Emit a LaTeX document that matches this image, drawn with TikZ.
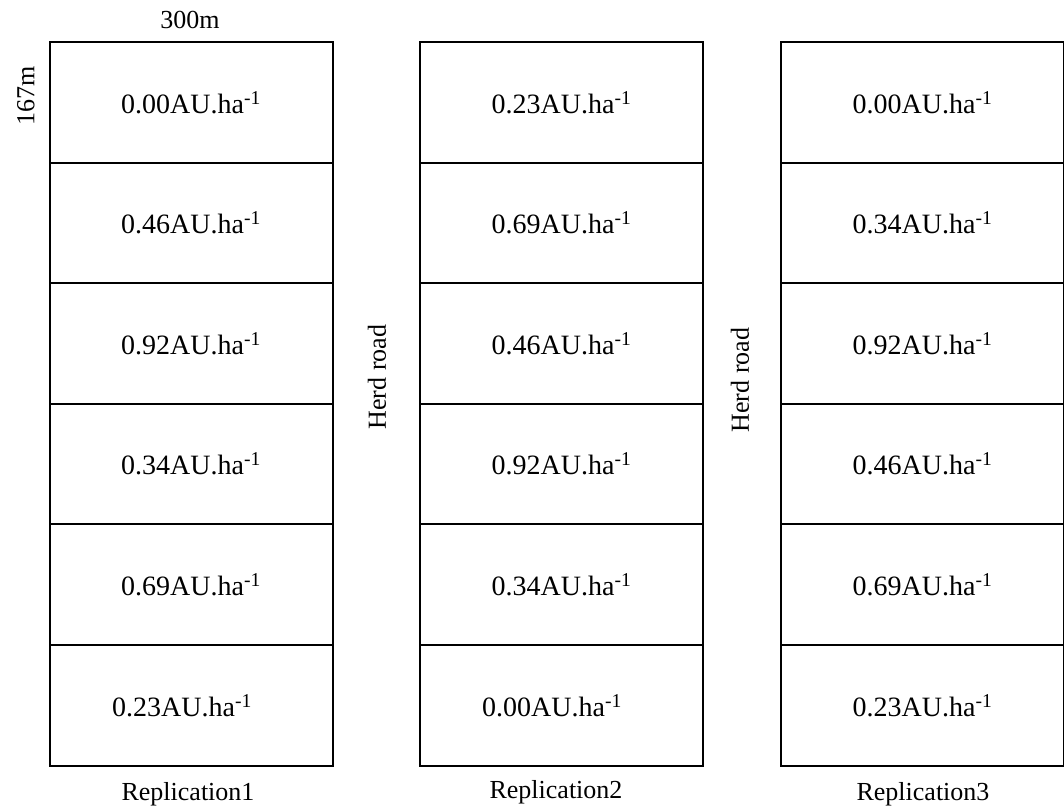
\documentclass[tikz,border=0pt]{standalone}
\usepackage{fontspec}
\setmainfont{Liberation Serif}
\begin{document}
\begin{tikzpicture}[x=1pt,y=-1pt,
  cell/.style={draw=black,line width=2pt,minimum width=283pt,minimum height=120.6pt,inner sep=0pt,font=\fontsize{28}{32}\selectfont},
  celltext/.style={inner sep=0pt,font=\fontsize{28}{32}\selectfont},
  lbl/.style={font=\fontsize{26}{30}\selectfont,inner sep=0pt},
  rd/.style={font=\fontsize{26}{30}\selectfont,inner sep=0pt,rotate=90}]
\useasboundingbox (0,0) rectangle (1064,807);
\newcommand{\au}[1]{#1AU.ha\textsuperscript{-1}}
% column 1
\node[cell] (a1) at (191,102.3) {\au{0.00}};
\node[cell] (a2) at (191,222.9) {\au{0.46}};
\node[cell] (a3) at (191,343.5) {\au{0.92}};
\node[cell] (a4) at (191,464.1) {\au{0.34}};
\node[cell] (a5) at (191,584.7) {\au{0.69}};
\node[cell] (a6) at (191,705.3) {};
\node[celltext] (a6t) at (182,706) {\au{0.23}};
% column 2
\node[cell] (b1) at (561.5,102.3) {\au{0.23}};
\node[cell] (b2) at (561.5,222.9) {\au{0.69}};
\node[cell] (b3) at (561.5,343.5) {\au{0.46}};
\node[cell] (b4) at (561.5,464.1) {\au{0.92}};
\node[cell] (b5) at (561.5,584.7) {\au{0.34}};
\node[cell] (b6) at (561.5,705.3) {};
\node[celltext] (b6t) at (552,706) {\au{0.00}};
% column 3
\node[cell] (c1) at (922.5,102.3) {\au{0.00}};
\node[cell] (c2) at (922.5,222.9) {\au{0.34}};
\node[cell] (c3) at (922.5,343.5) {\au{0.92}};
\node[cell] (c4) at (922.5,464.1) {\au{0.46}};
\node[cell] (c5) at (922.5,584.7) {\au{0.69}};
\node[cell] (c6) at (922.5,705.3) {\au{0.23}};
% labels
\node[lbl] (w) at (190,20) {300m};
\node[rd] (h) at (26,96) {167m};
\node[rd] (r1) at (377,377) {Herd road};
\node[rd] (r2) at (740,380) {Herd road};
\node[lbl] (l1) at (188,794) {Replication1};
\node[lbl] (l2) at (556,792) {Replication2};
\node[lbl] (l3) at (923,794) {Replication3};
\end{tikzpicture}
\end{document}
